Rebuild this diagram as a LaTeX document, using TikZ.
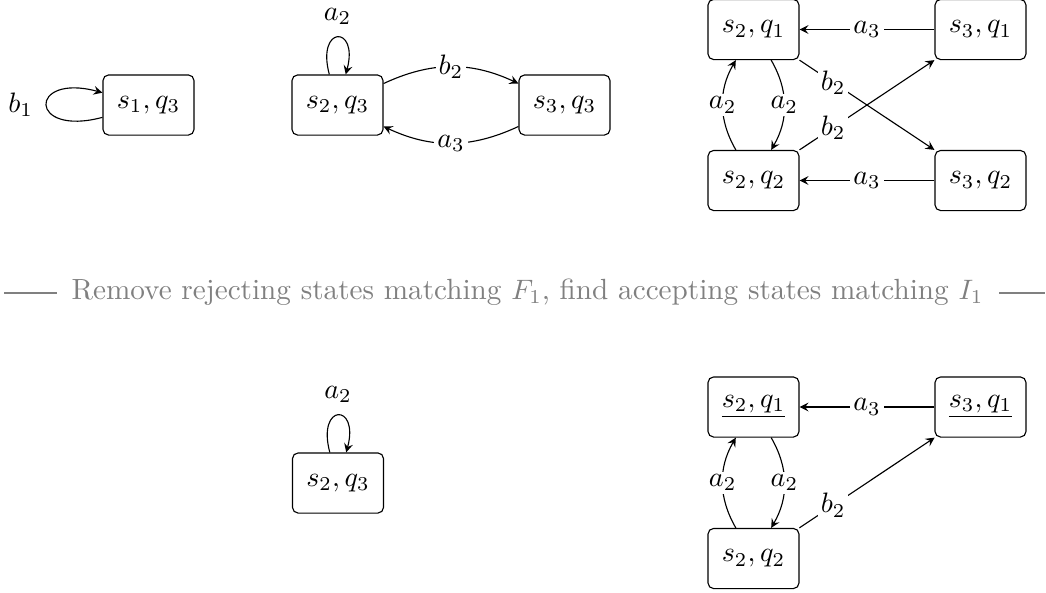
\documentclass[tikz,border=0pt]{standalone}
\usetikzlibrary{arrows}
\begin{document}
\fontsize{10.4pt}{12.5pt}\selectfont
\begin{tikzpicture}[x=0.356pt,y=-0.356pt,>=stealth,
  st/.style={draw,rounded corners=2pt,minimum width=32.4pt,minimum height=21.4pt,inner sep=0pt},
  lb/.style={fill=white,inner sep=1pt},
  sepline/.style={draw=gray,line width=0.4pt},
  every loop/.style={->}]
\useasboundingbox (0,0) rectangle (1046,592);
% top row
\node[st] (a) at (148.5,105) {$s_1, q_3$};
\node[st] (b) at (337.5,105) {$s_2, q_3$};
\node[st] (c) at (564.5,105) {$s_3, q_3$};
\node[st] (d) at (753.5,29.5) {$s_2, q_1$};
\node[st] (e) at (980.5,29.5) {$s_3, q_1$};
\node[st] (f) at (753.5,180.5) {$s_2, q_2$};
\node[st] (g) at (980.5,180.5) {$s_3, q_2$};
\draw (a) edge[loop left] node[left=1.2pt] {$b_1$} (a);
\draw (b) edge[loop above] node[above=0.8pt] {$a_2$} (b);
\draw[->] (b) to[bend left=25] node[lb] {$b_2$} (c);
\draw[->] (c) to[bend left=25] node[lb] {$a_3$} (b);
\draw[->] (e) -- node[lb] {$a_3$} (d);
\draw[->] (g) -- node[lb] {$a_3$} (f);
\draw[->] (f) to[bend left=30] node[lb] {$a_2$} (d);
\draw[->] (d) to[bend left=30] node[lb] {$a_2$} (f);
\draw[->] (d) -- node[lb,pos=0.25] {$b_2$} (g);
\draw[->] (f) -- node[lb,pos=0.25] {$b_2$} (e);
% separator
\node[text=gray,inner sep=0pt] (sep) at (527.5,292) {Remove rejecting states matching $F_1$, find accepting states matching $I_1$};
\coordinate (sl) at (4,293);
\coordinate (sr) at (1045,293);
\draw[sepline] ([xshift=-14*0.356pt]sep.west |- sl) -- (sl);
\draw[sepline] ([xshift=15*0.356pt]sep.east |- sr) -- (sr);
% bottom row
\node[st] (h) at (338,483) {$s_2, q_3$};
\node[st] (i) at (753.5,407) {$\underline{s_2, q_1}$};
\node[st] (j) at (980.5,407) {$\underline{s_3, q_1}$};
\node[st] (k) at (753.5,558.5) {$s_2, q_2$};
\draw (h) edge[loop above] node[above=0.8pt] {$a_2$} (h);
\draw[->] (j) -- node[lb] {$a_3$} (i);
\draw[->] (k) to[bend left=30] node[lb] {$a_2$} (i);
\draw[->] (i) to[bend left=30] node[lb] {$a_2$} (k);
\draw[->] (k) -- node[lb,pos=0.25] {$b_2$} (j);
\end{tikzpicture}
\end{document}
